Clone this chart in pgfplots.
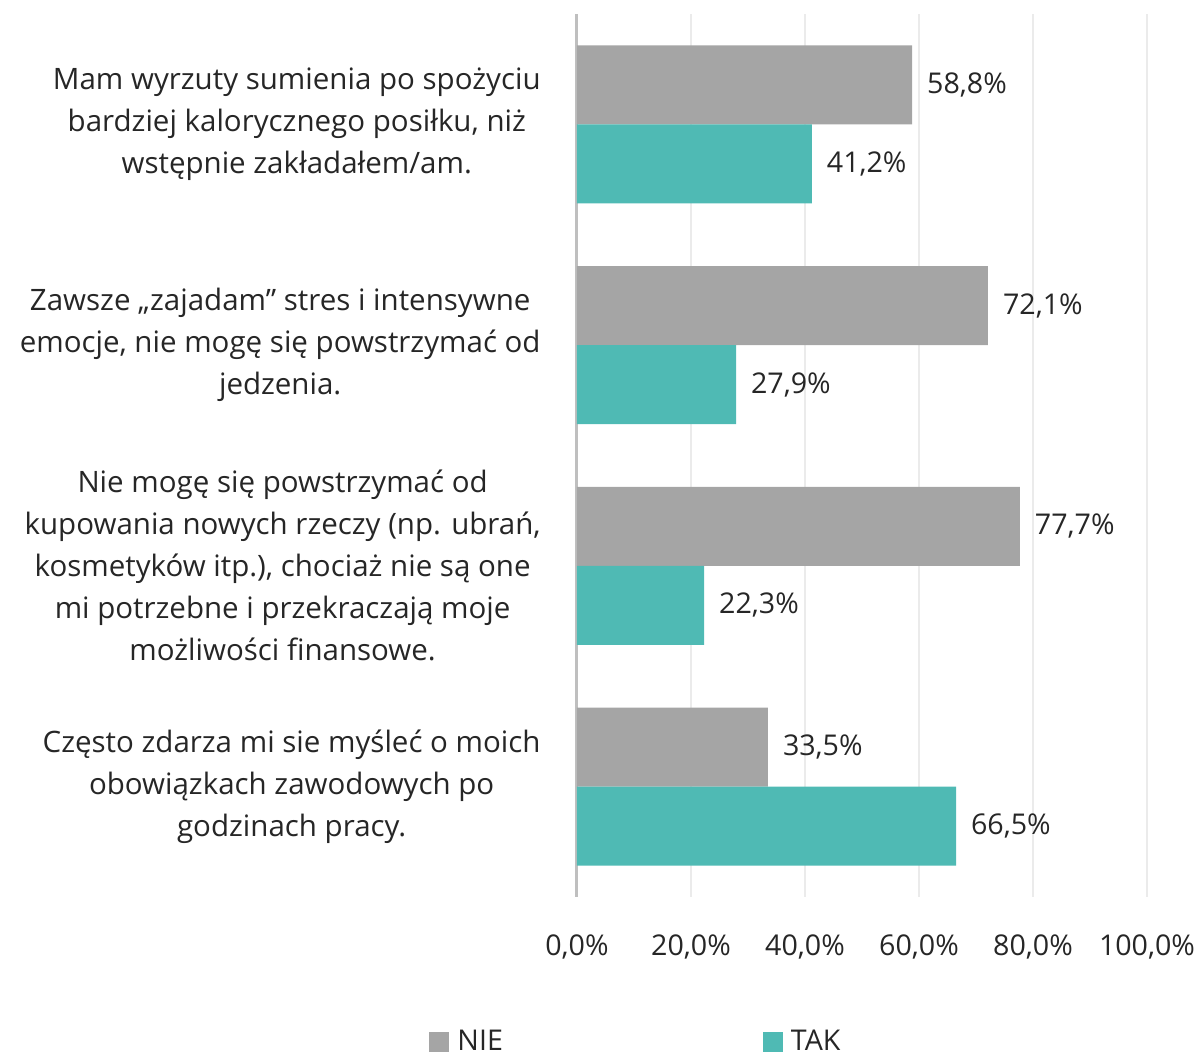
\documentclass[border=0pt]{standalone}
\usepackage{fontspec}
\setmainfont{Open Sans}
\usepackage{pgfplots}
\pgfplotsset{compat=1.18}
\definecolor{nie}{HTML}{A5A5A5}
\definecolor{tak}{HTML}{4FBAB4}
\definecolor{gridc}{HTML}{EBEBEB}
\definecolor{axc}{HTML}{BFBFBF}
\definecolor{txt}{HTML}{262626}
\begin{document}
\begin{tikzpicture}
\begin{axis}[
  scale only axis,
  width=285pt, height=441.5pt,
  xmin=0, xmax=100,
  ymin=-0.5, ymax=3.5,
  y dir=reverse,
  xbar, bar width=0.358,
  axis line style={draw=none},
  xtick={0,20,40,60,80,100},
  xticklabels={0{,}0\%,20{,}0\%,40{,}0\%,60{,}0\%,80{,}0\%,100{,}0\%},
  xmajorgrids, grid style={gridc, line width=0.75pt},
  extra x ticks={0}, extra x tick labels={},
  extra x tick style={grid style={axc, line width=1.5pt}},
  major tick length=0pt,
  ytick={0,1,2,3},
  yticklabels={
    {Mam wyrzuty sumienia po spożyciu\\bardziej kalorycznego posiłku, niż\\wstępnie zakładałem/am.},
    {Zawsze „zajadam” stres i intensywne\\emocje, nie mogę się powstrzymać od\\jedzenia.},
    {Nie mogę się powstrzymać od\\kupowania nowych rzeczy (np. ubrań,\\kosmetyków itp.), chociaż nie są one\\mi potrzebne i przekraczają moje\\możliwości finansowe.},
    {Często zdarza mi sie myśleć o moich\\obowiązkach zawodowych po\\godzinach pracy.}},
  yticklabel style={align=center, inner xsep=0pt, xshift=-18pt, font=\fontsize{14.75}{21}\selectfont, text=txt},
  xticklabel style={font=\fontsize{14.3}{17}\selectfont, text=txt, yshift=-15.5pt},
  point meta=x,
  nodes near coords={\pgfmathprintnumber[fixed,zerofill,precision=1,use comma,assume math mode=true]{\pgfplotspointmeta}\%},
  nodes near coords style={font=\fontsize{14.3}{17}\selectfont, text=txt, anchor=west, xshift=4pt},
  legend columns=2,
  legend style={at={(-0.27,-0.164)}, anchor=west, draw=none, fill=none, font=\fontsize{14.3}{17}\selectfont, text=txt,
    /tikz/every even column/.append style={column sep=128pt},
    /tikz/every odd column/.append style={column sep=2pt}},
  legend image code/.code={\fill[#1] (0pt,-5pt) rectangle (10pt,5pt);},
]
\addplot+[draw=none, fill=nie, bar shift=-0.179] coordinates {(58.8,0) (72.1,1) (77.7,2) (33.5,3)};
\addlegendentry{NIE}
\addplot+[draw=none, fill=tak, bar shift=0.179] coordinates {(41.2,0) (27.9,1) (22.3,2) (66.5,3)};
\addlegendentry{TAK}
\end{axis}
\pgfresetboundingbox
\useasboundingbox (current axis.south west) ++(-288.5pt,-79pt) rectangle ++(598.5pt,527.5pt);
\end{tikzpicture}
\end{document}
